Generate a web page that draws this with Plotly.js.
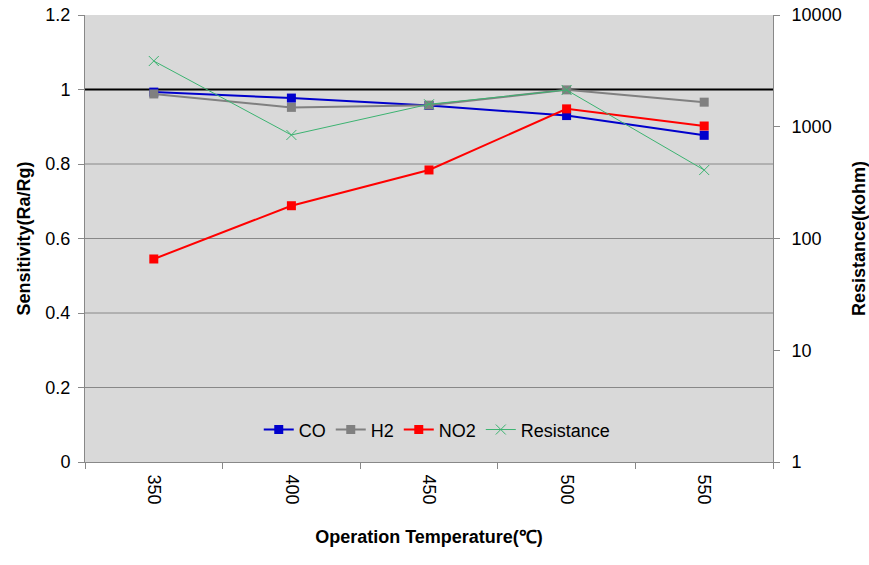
<!DOCTYPE html>
<html>
<head>
<meta charset="utf-8">
<script src="https://cdn.plot.ly/plotly-3.0.1.min.js"></script>
<style>html,body{margin:0;padding:0;background:#fff;}#chart{width:869px;height:565px;}</style>
</head>
<body>
<div id="chart"></div>
<script>
var temperatures = ['350', '400', '450', '500', '550'];
var coValues = [0.993, 0.977, 0.957, 0.930, 0.877];
var h2Values = [0.988, 0.952, 0.958, 0.999, 0.966];
var no2Values = [0.545, 0.688, 0.784, 0.948, 0.902];
var resistanceValues = [3875, 844, 1590, 2133, 410];
var leftTicks = [0, 0.2, 0.4, 0.6, 0.8, 1, 1.2];
var rightTicks = [1, 10, 100, 1000, 10000];
var referenceLevel = 1;

var font = 'Liberation Sans, Arial, sans-serif';

var traces = [
  {x: temperatures, y: coValues, name: 'CO', type: 'scatter', mode: 'lines+markers',
   line: {color: '#0000cc', width: 2}, marker: {symbol: 'square', size: 9, color: '#0000cc'}},
  {x: temperatures, y: h2Values, name: 'H2', type: 'scatter', mode: 'lines+markers',
   line: {color: '#808080', width: 2}, marker: {symbol: 'square', size: 9, color: '#808080'}},
  {x: temperatures, y: no2Values, name: 'NO2', type: 'scatter', mode: 'lines+markers',
   line: {color: '#ff0000', width: 2}, marker: {symbol: 'square', size: 9, color: '#ff0000'}},
  {x: temperatures, y: resistanceValues, name: 'Resistance', type: 'scatter', mode: 'lines+markers',
   yaxis: 'y2',
   line: {color: '#3cb371', width: 1}, marker: {symbol: 'x-thin', size: 10, color: '#3cb371', line: {color: '#3cb371', width: 1}}}
];

// grid lines (all but the reference level, which is drawn in black)
var shapes = leftTicks.filter(function (v) { return v !== 0 && v !== referenceLevel && v !== 1.2; })
  .map(function (v) {
    return {type: 'line', xref: 'paper', x0: 0, x1: 1, yref: 'y', y0: v, y1: v,
            line: {color: '#888', width: 1}, layer: 'below'};
  });
shapes.push({type: 'line', xref: 'paper', x0: 0, x1: 1, yref: 'y', y0: referenceLevel, y1: referenceLevel,
             line: {color: '#000', width: 2}, layer: 'below'});

var layout = {
  width: 869, height: 565,
  margin: {l: 85, r: 96, t: 15, b: 103},
  paper_bgcolor: '#ffffff',
  plot_bgcolor: '#d9d9d9',
  font: {family: font, size: 18, color: '#000'},
  showlegend: true,
  legend: {orientation: 'h', x: 0.512, y: 0.072, xanchor: 'center', yanchor: 'middle',
           bgcolor: 'rgba(0,0,0,0)', font: {size: 18, family: font}, itemwidth: 30, tracegroupgap: 0},
  xaxis: {
    type: 'category', range: [-0.5, 4.5], tickangle: 90, ticks: 'outside', ticklen: 6, tickcolor: '#888',
    tickson: 'boundaries', showline: true, linecolor: '#888', linewidth: 1,
    showgrid: false, zeroline: false, ticklabelstandoff: 8,
    tickfont: {size: 18, family: font},
    title: {text: 'Operation Temperature(℃)', font: {size: 18, family: font, weight: 'bold'}, standoff: 26}
  },
  yaxis: {
    range: [0, 1.2], tickvals: leftTicks, ticktext: leftTicks.map(String),
    ticks: 'outside', ticklen: 6, tickcolor: '#888',
    showline: true, linecolor: '#888', linewidth: 1,
    showgrid: false, zeroline: false, ticklabelstandoff: 4,
    tickfont: {size: 18, family: font},
    title: {text: 'Sensitivity(Ra/Rg)', font: {size: 18, family: font, weight: 'bold'}, standoff: 10}
  },
  yaxis2: {
    type: 'log', range: [0, 4], overlaying: 'y', side: 'right',
    tickvals: rightTicks, ticktext: rightTicks.map(String),
    ticks: 'outside', ticklen: 6, tickcolor: '#888',
    showline: true, linecolor: '#888', linewidth: 1,
    showgrid: false, zeroline: false, ticklabelstandoff: 8,
    tickfont: {size: 18, family: font},
    title: {text: 'Resistance(kohm)', font: {size: 18, family: font, weight: 'bold'}, standoff: 14}
  },
  shapes: shapes
};

Plotly.newPlot('chart', traces, layout, {displayModeBar: false, staticPlot: true});
</script>
</body>
</html>
